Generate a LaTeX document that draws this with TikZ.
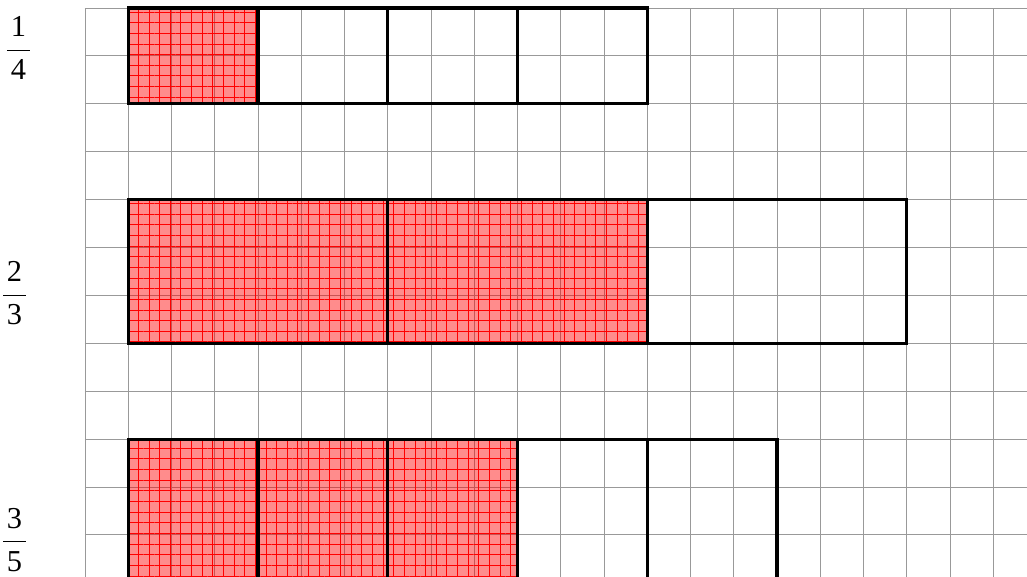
\documentclass[tikz,border=0pt]{standalone}
\usepackage{fontspec}
\setmainfont{Liberation Serif}
\usetikzlibrary{patterns.meta}
\newcommand{\frc}[2]{$\displaystyle\frac{\hspace{2.5pt}\mbox{#1}\hspace{2.5pt}}{\mbox{#2}}$}

\begin{document}
\begin{tikzpicture}[x=1cm, y=1.1075cm,
    gridline/.style={draw=gray!80, line width=0.6pt},
    part/.style={draw=black, line width=2pt},
    shaded/.style={fill=red, fill opacity=0.45},
    hlines/.style={pattern={Lines[angle=0, distance=7pt, line width=0.6pt]}, pattern color=red},
    vlines/.style={pattern={Lines[angle=90, distance=7pt, line width=0.6pt]}, pattern color=red},
    frac/.style={font=\fontsize{20}{24}\selectfont, inner sep=0pt}
]
% Frame
\useasboundingbox (-1.965,0.167) rectangle (21.78,-11.858);
\clip (-1.965,0.167) rectangle (21.78,-11.858);

% Background grid
\foreach \x in {0,...,21} \draw[gridline] (\x,0) -- (\x,-12);
\foreach \y in {0,...,11} \draw[gridline] (0,-\y) -- (21.78,-\y);

% Shaded parts
\foreach \l/\t/\r/\b in {1/0/4/-2, 1/-4/13/-7, 1/-9/10/-12} {
    \fill[shaded] (\l,\t) rectangle (\r,\b);
    \path[hlines] (\l,\t) rectangle (\r,\b);
    \path[vlines] (\l,\t) rectangle (\r,\b);
}

% Bars split into equal parts
\foreach \x in {1,4,7,10} \draw[part] (\x,0) rectangle ++(3,-2);
\foreach \x in {1,7,13} \draw[part] (\x,-4) rectangle ++(6,-3);
\foreach \x in {1,4,7,10,13} \draw[part] (\x,-9) rectangle ++(3,-3);

% Fractions
\node[frac] (quarter) at (-1.54,-0.84) {\frc{1}{4}};
\node[frac] (twothirds) at (-1.63,-5.96) {\frc{2}{3}};
\node[frac] (threefifths) at (-1.63,-11.1) {\frc{3}{5}};
\end{tikzpicture}
\end{document}
